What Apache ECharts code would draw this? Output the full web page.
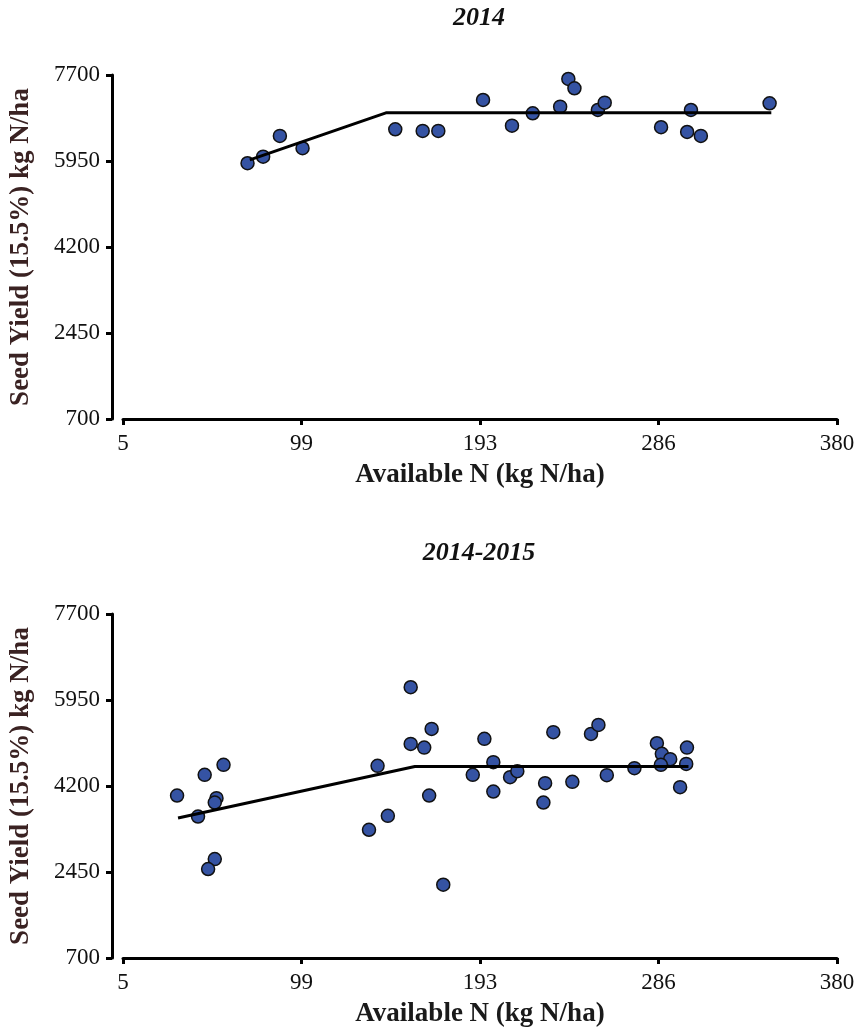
<!DOCTYPE html>
<html>
<head>
<meta charset="utf-8">
<title>Seed yield vs available N</title>
<script src="https://cdn.jsdelivr.net/npm/echarts@6/dist/echarts.min.js"></script>
<style>
    html, body { margin: 0; padding: 0; background: #fff; }
    #chart { width: 861px; height: 1031px; }
</style>
</head>
<body>
<div id="chart"></div>
<script>
var xTicks = [5, 98.75, 192.5, 286.25, 380];
var xTickLabels = ['5', '99', '193', '286', '380'];
var yTicks = [700, 2450, 4200, 5950, 7700];

// 2014
var n2014 = [70.4, 78.6, 87.4, 99.3, 148, 162.4, 170.6, 194.1, 209.3, 220.2,
             234.6, 238.9, 242.1, 254.4, 258, 287.6, 303.3, 301.3, 308.5, 344.6];
var yield2014 = [5905, 6039, 6460, 6210, 6596, 6562, 6562, 7192, 6669, 6921,
                 7056, 7619, 7430, 6988, 7137, 6637, 6988, 6541, 6460, 7125];
var fitN2014 = [71.6, 143.1, 345.5];
var fitYield2014 = [5972, 6930, 6930];

// 2014-2015
var n1415 = [33.4, 47.9, 57.8, 54.1, 53.2, 44.4, 53.2, 49.7, 138.7, 156.1,
             167.1, 156.1, 163.2, 165.8, 144.1, 134.2, 173.2, 194.8, 199.5, 188.7,
             199.5, 208.3, 212.1, 231, 226.7, 225.8, 241, 250.8, 254.7, 259.1,
             273.6, 285.4, 288, 292.4, 287.5, 301.2, 300.8, 297.6];
var yield1415 = [4006, 4427, 4630, 3953, 3864, 3579, 2713, 2510, 4610, 6210,
                 5362, 5057, 4982, 4006, 3593, 3309, 2191, 5159, 4685, 4427,
                 4087, 4380, 4502, 5295, 4258, 3864, 4285, 5260, 5443, 4421,
                 4563, 5071, 4854, 4746, 4630, 4982, 4650, 4177];
var fitN1415 = [33.9, 158.3, 302];
var fitYield1415 = [3547, 4596, 4596];

var serif = '"Liberation Serif", "DejaVu Serif", serif';

function zip(a, b) {
    return a.map(function (v, i) { return [v, b[i]]; });
}

function makeX(gi) {
    return {
        type: 'value', gridIndex: gi, min: 5, max: 380,
        name: 'Available N (kg N/ha)', nameLocation: 'middle', nameGap: 43,
        nameTextStyle: { fontFamily: serif, fontWeight: 'bold', fontSize: 27, color: '#1a1a1a' },
        axisLine: { show: true, lineStyle: { color: '#000', width: 3 } },
        axisTick: { show: true, length: 6, lineStyle: { color: '#000', width: 3 }, customValues: xTicks },
        axisLabel: {
            customValues: xTicks, margin: 13,
            fontFamily: serif, fontSize: 23, color: '#111',
            formatter: function (v) {
                var i = xTicks.indexOf(v);
                return i >= 0 ? xTickLabels[i] : '';
            }
        },
        splitLine: { show: false }
    };
}

function makeY(gi) {
    return {
        type: 'value', gridIndex: gi, min: 700, max: 7700, offset: 11,
        name: 'Seed Yield (15.5%) kg N/ha', nameLocation: 'middle', nameGap: 77,
        nameTextStyle: { fontFamily: serif, fontWeight: 'bold', fontSize: 27, color: '#3a2222' },
        axisLine: { show: true, lineStyle: { color: '#000', width: 3 } },
        axisTick: { show: true, length: 6, lineStyle: { color: '#000', width: 3 }, customValues: yTicks },
        axisLabel: {
            customValues: yTicks, margin: 12, fontFamily: serif, fontSize: 23, color: '#111',
            formatter: function (v) { return String(v); }
        },
        splitLine: { show: false }
    };
}

function scatter(gi, data) {
    return {
        type: 'scatter', xAxisIndex: gi, yAxisIndex: gi, data: data,
        symbol: 'circle', symbolSize: 13,
        itemStyle: { color: '#3553a3', opacity: 1, borderColor: '#111', borderWidth: 1.5 },
        z: 2
    };
}

function fit(gi, data) {
    return {
        type: 'line', xAxisIndex: gi, yAxisIndex: gi, data: data,
        symbol: 'none', lineStyle: { color: '#000', width: 3 }, z: 3
    };
}

var myChart = echarts.init(document.getElementById('chart'));

var titleStyle = { fontFamily: serif, fontWeight: 'bold', fontStyle: 'italic', fontSize: 26, color: '#111' };

var option = {
    animation: false,
    backgroundColor: '#fff',
    title: [
        { text: '2014', left: 479, top: 5, textAlign: 'center', padding: 0, textStyle: titleStyle },
        { text: '2014-2015', left: 479, top: 540, textAlign: 'center', padding: 0, textStyle: titleStyle }
    ],
    grid: [
        { left: 123, top: 75, width: 714, height: 344 },
        { left: 123, top: 614, width: 714, height: 344 }
    ],
    xAxis: [makeX(0), makeX(1)],
    yAxis: [makeY(0), makeY(1)],
    series: [
        scatter(0, zip(n2014, yield2014)),
        fit(0, zip(fitN2014, fitYield2014)),
        scatter(1, zip(n1415, yield1415)),
        fit(1, zip(fitN1415, fitYield1415))
    ]
};

myChart.setOption(option);
</script>
</body>
</html>
